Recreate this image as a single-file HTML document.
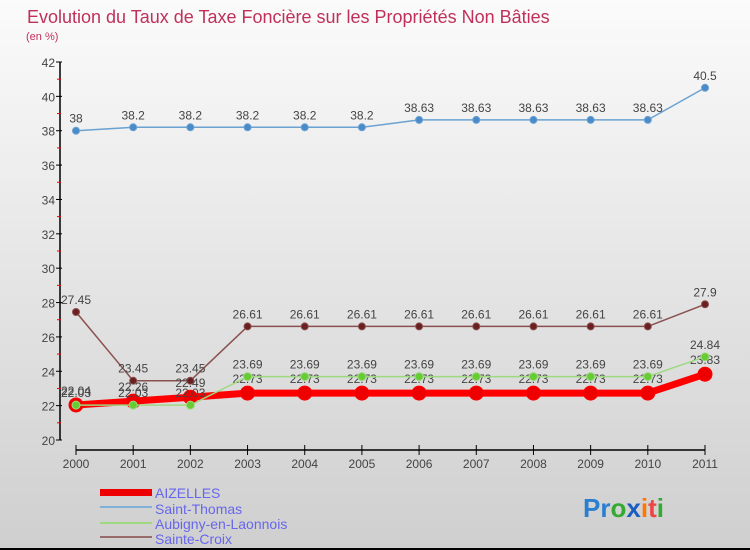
<!DOCTYPE html>
<html><head><meta charset="utf-8"><style>
body{margin:0}
#wrap{width:750px;height:550px;position:relative;background:linear-gradient(#fbfbfb,#cfcfcf);font-family:"Liberation Sans",sans-serif;overflow:hidden;box-sizing:border-box;border-bottom:2px solid #000}
svg{position:absolute;left:0;top:0}
</style></head><body>
<div id="wrap">
<svg id="chart" width="750" height="550">
<text x="27" y="23" font-size="18" fill="#c0305a">Evolution du Taux de Taxe Foncière sur les Propriétés Non Bâties</text>
<text x="26" y="40" font-size="11" fill="#c0305a">(en %)</text>
<g id="axes"></g><g id="series"></g>
<g font-size="14" fill="#6666ee">
<rect x="100" y="489" width="52" height="7" fill="#e00"/>
<text x="155" y="498">AIZELLES</text>
<line x1="100" y1="507" x2="152" y2="507" stroke="#7fb0d8" stroke-width="2"/>
<text x="155" y="514">Saint-Thomas</text>
<line x1="100" y1="523" x2="152" y2="523" stroke="#9ed87f" stroke-width="2"/>
<text x="155" y="529">Aubigny-en-Laonnois</text>
<line x1="100" y1="537" x2="152" y2="537" stroke="#9a6b6b" stroke-width="2"/>
<text x="155" y="544">Sainte-Croix</text>
</g>
<text x="583" y="517" font-size="26" font-weight="bold"><tspan fill="#2a7fd0">Pr</tspan><tspan fill="#3a3">o</tspan><tspan fill="#1a5fc0">x</tspan><tspan fill="#f70">i</tspan><tspan fill="#e44">t</tspan><tspan fill="#3a3">i</tspan></text>
</svg></div>
<script>
const years=[2000,2001,2002,2003,2004,2005,2006,2007,2008,2009,2010,2011];
const yTicks=[20,22,24,26,28,30,32,34,36,38,40,42];
const aizelles=[22.04,22.26,22.49,22.73,22.73,22.73,22.73,22.73,22.73,22.73,22.73,23.83];
const saintThomas=[38,38.2,38.2,38.2,38.2,38.2,38.63,38.63,38.63,38.63,38.63,40.5];
const aubigny=[22.03,22.03,22.03,23.69,23.69,23.69,23.69,23.69,23.69,23.69,23.69,24.84];
const sainteCroix=[27.45,23.45,23.45,26.61,26.61,26.61,26.61,26.61,26.61,26.61,26.61,27.9];
const NS="http://www.w3.org/2000/svg";
const xs=i=>76+i*(705-76)/(years.length-1);
const ys=v=>440-(v-20)*(440-62)/22;
function mk(t,a,p){const e=document.createElementNS(NS,t);for(const k in a)e.setAttribute(k,a[k]);p.appendChild(e);return e;}
const ax=document.getElementById('axes');
const yl=mk('line',{x1:60,y1:62,x2:60,y2:440,stroke:'#000','stroke-width':1.5},ax);


yTicks.forEach(v=>{
 mk('line',{x1:56,y1:ys(v),x2:62,y2:ys(v),stroke:'#000'},ax);
 if(v<42)mk('line',{x1:57,y1:ys(v+1),x2:61,y2:ys(v+1),stroke:'#e00'},ax);
 const t=mk('text',{x:55,y:ys(v)+5,'text-anchor':'end','font-size':12,fill:'#444'},ax);t.textContent=v;
 
 
});
const xl=mk('line',{x1:76,y1:450,x2:705,y2:450,stroke:'#000','stroke-width':1.5},ax);


years.forEach((y,i)=>{
 mk('line',{x1:xs(i),y1:445,x2:xs(i),y2:455,stroke:'#000'},ax);
 const t=mk('text',{x:xs(i),y:468,'text-anchor':'middle','font-size':12,fill:'#444'},ax);t.textContent=y;
 
 
});
const sg=document.getElementById('series');
function draw(vals,name,color,dot,w,r,labelOff){
 const g=mk('g',{},sg);
 
 
 mk('polyline',{points:vals.map((v,i)=>xs(i)+','+ys(v)).join(' '),fill:'none',stroke:color,'stroke-width':w,'stroke-linejoin':'round'},g);
 vals.forEach((v,i)=>{
  const c=mk('circle',{cx:xs(i),cy:ys(v),r:r,fill:dot,stroke:color,'stroke-width':1},g);
  
  
  const t=mk('text',{x:xs(i),y:ys(v)-labelOff,'text-anchor':'middle','font-size':12,fill:'#444'},g);t.textContent=v;
 });
}
draw(saintThomas,'saint-thomas','#6aa2d2','#4a8ac8',1.5,3.5,8);
draw(sainteCroix,'sainte-croix','#8a5050','#6a2020',1.5,3.5,8);
draw(aizelles,'aizelles','#f00','#e00',7,7,10);
draw(aubigny,'aubigny','#9ed87f','#6c3',1.5,4,8);
</script>
</body></html>
